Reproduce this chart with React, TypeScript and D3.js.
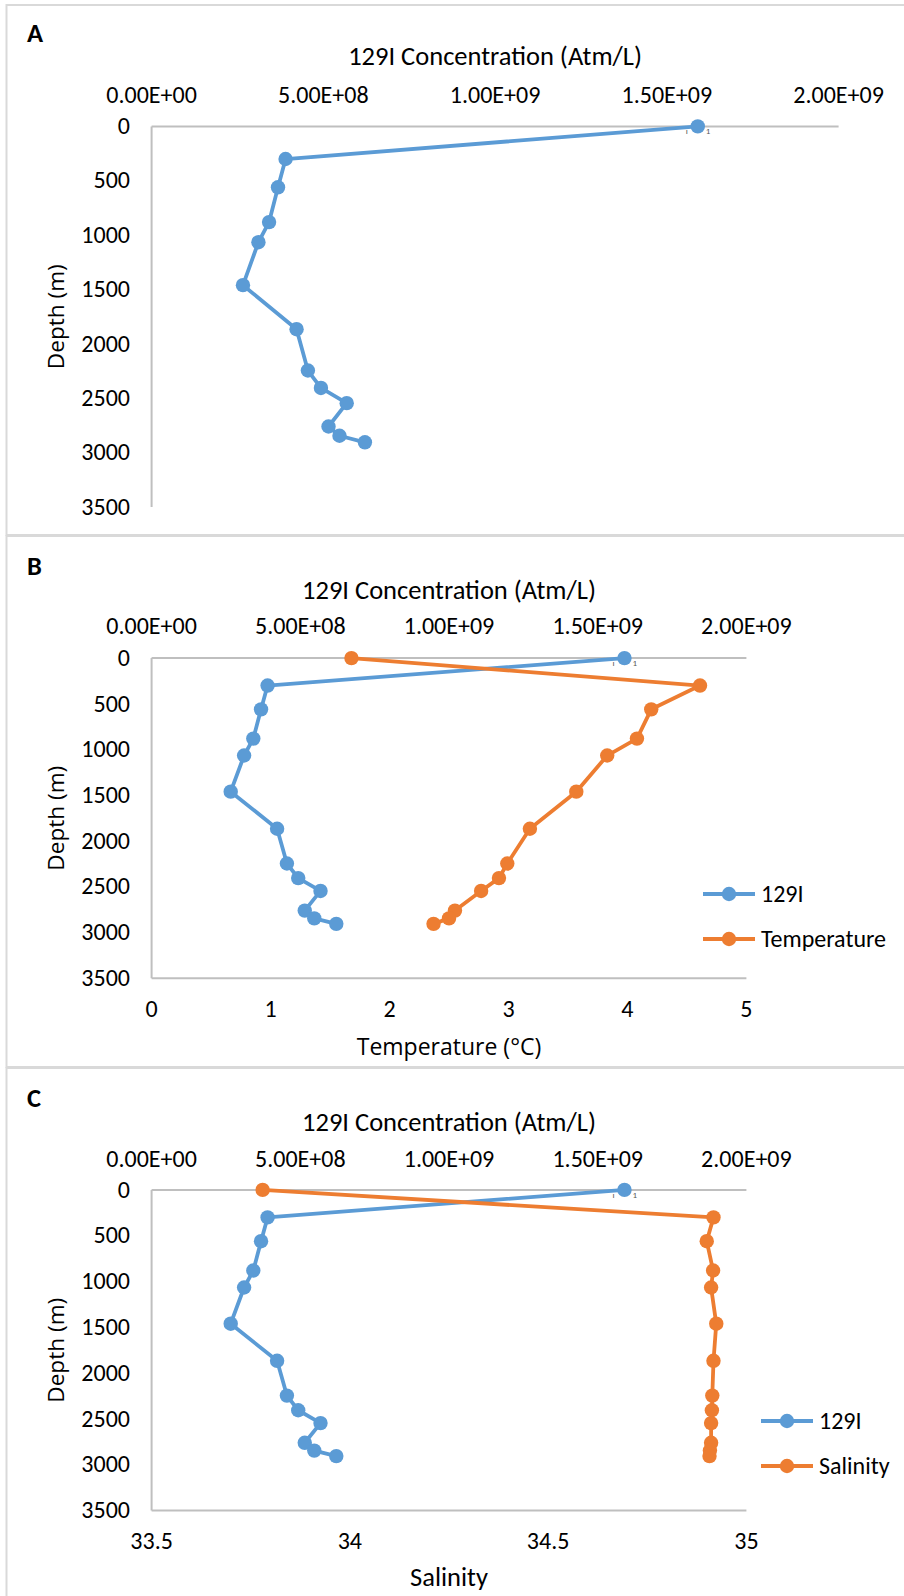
import React from "react";
import * as d3 from "d3";

const depths = [0, 300, 560, 880, 1065, 1460, 1865, 2245, 2405, 2545, 2760, 2845, 2905];
const iodine129 = [1.59e9, 3.9e8, 3.68e8, 3.42e8, 3.11e8, 2.66e8, 4.22e8, 4.55e8, 4.93e8, 5.68e8, 5.15e8, 5.47e8, 6.21e8];
const temperature = [1.68, 4.61, 4.2, 4.08, 3.83, 3.57, 3.18, 2.99, 2.92, 2.77, 2.55, 2.5, 2.37];
const salinity = [33.78, 34.917, 34.9, 34.916, 34.911, 34.924, 34.917, 34.914, 34.913, 34.911, 34.911, 34.908, 34.907];

const concTicks = [0, 5e8, 1e9, 1.5e9, 2e9];
const depthTicks = [0, 500, 1000, 1500, 2000, 2500, 3000, 3500];
const tempTicks = [0, 1, 2, 3, 4, 5];
const salTicks = [33.5, 34, 34.5, 35];

const BLUE = "#5b9bd5";
const ORANGE = "#ed7d31";
const AXIS = "#bfbfbf";
const BORDER = "#d9d9d9";
const FONT = "Carlito, Lato, sans-serif";
const FONT2 = "'Open Sans', sans-serif";
const TICK = 24;
const TITLE = 26.5;

function sci(v: number) {
  const [m, e] = v.toExponential(2).split("e");
  const sign = e[0] === "-" ? "-" : "+";
  const digits = e.replace(/^[+-]/, "").padStart(2, "0");
  return m + "E" + sign + digits;
}

type Second = {
  name: string;
  values: number[];
  domain: [number, number];
  ticks: number[];
  title: string;
  titleFont: string;
  titleSize: number;
  legendY: [number, number];
  legendX: number;
};

type PanelProps = {
  letter: string;
  boxTop: number;
  boxH: number;
  x0: number;
  x1: number;
  yTop: number;
  yBot: number;
  letterY: number;
  titleY: number;
  tickY: number;
  bottomTickY?: number;
  bottomTitleY?: number;
  second?: Second;
};

function Panel(p: PanelProps) {
  const x = d3.scaleLinear().domain([0, 2e9]).range([p.x0, p.x1]);
  const y = d3.scaleLinear().domain([0, 3500]).range([p.yTop, p.yBot]);
  const line = d3
    .line<[number, number]>()
    .x((d) => d[0])
    .y((d) => d[1]);
  const ptsI: [number, number][] = depths.map((dp, i) => [x(iodine129[i]), y(dp)]);
  let x2: d3.ScaleLinear<number, number> | null = null;
  let pts2: [number, number][] = [];
  if (p.second) {
    x2 = d3.scaleLinear().domain(p.second.domain).range([p.x0, p.x1]);
    pts2 = depths.map((dp, i) => [x2!(p.second!.values[i]), y(dp)]);
  }
  const cx = (p.x0 + p.x1) / 2;
  const cy = (p.yTop + p.yBot) / 2;
  return (
    <g>
      <rect x={6.5} y={p.boxTop} width={1000} height={p.boxH} fill="white" stroke={BORDER} strokeWidth={2} />
      <text x={27} y={p.letterY} fontFamily={FONT} fontWeight="bold" fontSize={26.5} fill="#000">
        {p.letter}
      </text>
      <text x={cx} y={p.titleY} textAnchor="middle" fontFamily={FONT} fontSize={TITLE} fill="#000">
        129I Concentration (Atm/L)
      </text>
      {concTicks.map((t) => (
        <text key={t} x={x(t)} y={p.tickY} textAnchor="middle" fontFamily={FONT} fontSize={TICK} fill="#000">
          {sci(t)}
        </text>
      ))}
      {depthTicks.map((t) => (
        <text key={t} x={130} y={y(t)} dy="0.32em" textAnchor="end" fontFamily={FONT} fontSize={TICK} fill="#000">
          {t}
        </text>
      ))}
      <text
        transform={`translate(${64},${cy}) rotate(-90)`}
        textAnchor="middle"
        fontFamily={FONT2}
        fontSize={22.6}
        fill="#000"
      >
        Depth (m)
      </text>
      <line x1={p.x0} x2={p.x1} y1={y(0)} y2={y(0)} stroke={AXIS} strokeWidth={2} />
      <line x1={p.x0} x2={p.x0} y1={y(0)} y2={y(3500)} stroke={AXIS} strokeWidth={2} />
      {p.second && x2 && (
        <g>
          <line x1={p.x0} x2={p.x1} y1={y(3500)} y2={y(3500)} stroke={AXIS} strokeWidth={2} />
          {p.second.ticks.map((t) => (
            <text key={t} x={x2!(t)} y={p.bottomTickY} textAnchor="middle" fontFamily={FONT} fontSize={TICK} fill="#000">
              {String(t)}
            </text>
          ))}
          <text x={cx} y={p.bottomTitleY} textAnchor="middle" fontFamily={p.second.titleFont} fontSize={p.second.titleSize} fill="#000">
            {p.second.title}
          </text>
        </g>
      )}
      <path d={line(ptsI) || ""} fill="none" stroke={BLUE} strokeWidth={3.8} strokeLinejoin="round" />
      {ptsI.map((d, i) => (
        <circle key={i} cx={d[0]} cy={d[1]} r={7.2} fill={BLUE} />
      ))}
      <text x={ptsI[0][0] - 12} y={ptsI[0][1] + 8} fontFamily={FONT} fontSize={9} fill="#595959">ı</text>
      <text x={ptsI[0][0] + 8} y={ptsI[0][1] + 8} fontFamily={FONT} fontSize={9} fill="#595959">1</text>
      {p.second && (
        <g>
          <path d={line(pts2) || ""} fill="none" stroke={ORANGE} strokeWidth={3.8} strokeLinejoin="round" />
          {pts2.map((d, i) => (
            <circle key={i} cx={d[0]} cy={d[1]} r={7.2} fill={ORANGE} />
          ))}
          {[
            { name: "129I", color: BLUE, ly: p.second.legendY[0] },
            { name: p.second.name, color: ORANGE, ly: p.second.legendY[1] },
          ].map((it) => (
            <g key={it.name}>
              <line x1={p.second!.legendX} x2={p.second!.legendX + 52} y1={it.ly} y2={it.ly} stroke={it.color} strokeWidth={3.8} />
              <circle cx={p.second!.legendX + 26} cy={it.ly} r={7.2} fill={it.color} />
              <text x={p.second!.legendX + 58} y={it.ly} dy="0.32em" fontFamily={FONT} fontSize={TICK} fill="#000">
                {it.name}
              </text>
            </g>
          ))}
        </g>
      )}
    </g>
  );
}

export default function App() {
  return (
    <svg width={904} height={1596} style={{ position: "absolute", left: 0, top: 0, background: "white" }}>
      <rect x={0} y={0} width={904} height={1596} fill="white" />
      <Panel
        letter="A"
        boxTop={5}
        boxH={530}
        x0={151.6}
        x1={838.6}
        yTop={126.4}
        yBot={507}
        letterY={42}
        titleY={65}
        tickY={103}
      />
      <Panel
        letter="B"
        boxTop={536}
        boxH={531}
        x0={151.6}
        x1={746.4}
        yTop={658.1}
        yBot={978.3}
        letterY={575}
        titleY={599}
        tickY={634}
        bottomTickY={1017}
        bottomTitleY={1055}
        second={{
          name: "Temperature",
          values: temperature,
          domain: [0, 5],
          ticks: tempTicks,
          title: "Temperature (°C)",
          titleFont: FONT2,
          titleSize: 23,
          legendY: [894, 939],
          legendX: 703,
        }}
      />
      <Panel
        letter="C"
        boxTop={1068}
        boxH={540}
        x0={151.6}
        x1={746.4}
        yTop={1189.9}
        yBot={1510.6}
        letterY={1107}
        titleY={1131}
        tickY={1167}
        bottomTickY={1549}
        bottomTitleY={1586}
        second={{
          name: "Salinity",
          values: salinity,
          domain: [33.5, 35],
          ticks: salTicks,
          title: "Salinity",
          titleFont: FONT,
          titleSize: TITLE,
          legendY: [1421, 1466],
          legendX: 761,
        }}
      />
    </svg>
  );
}
